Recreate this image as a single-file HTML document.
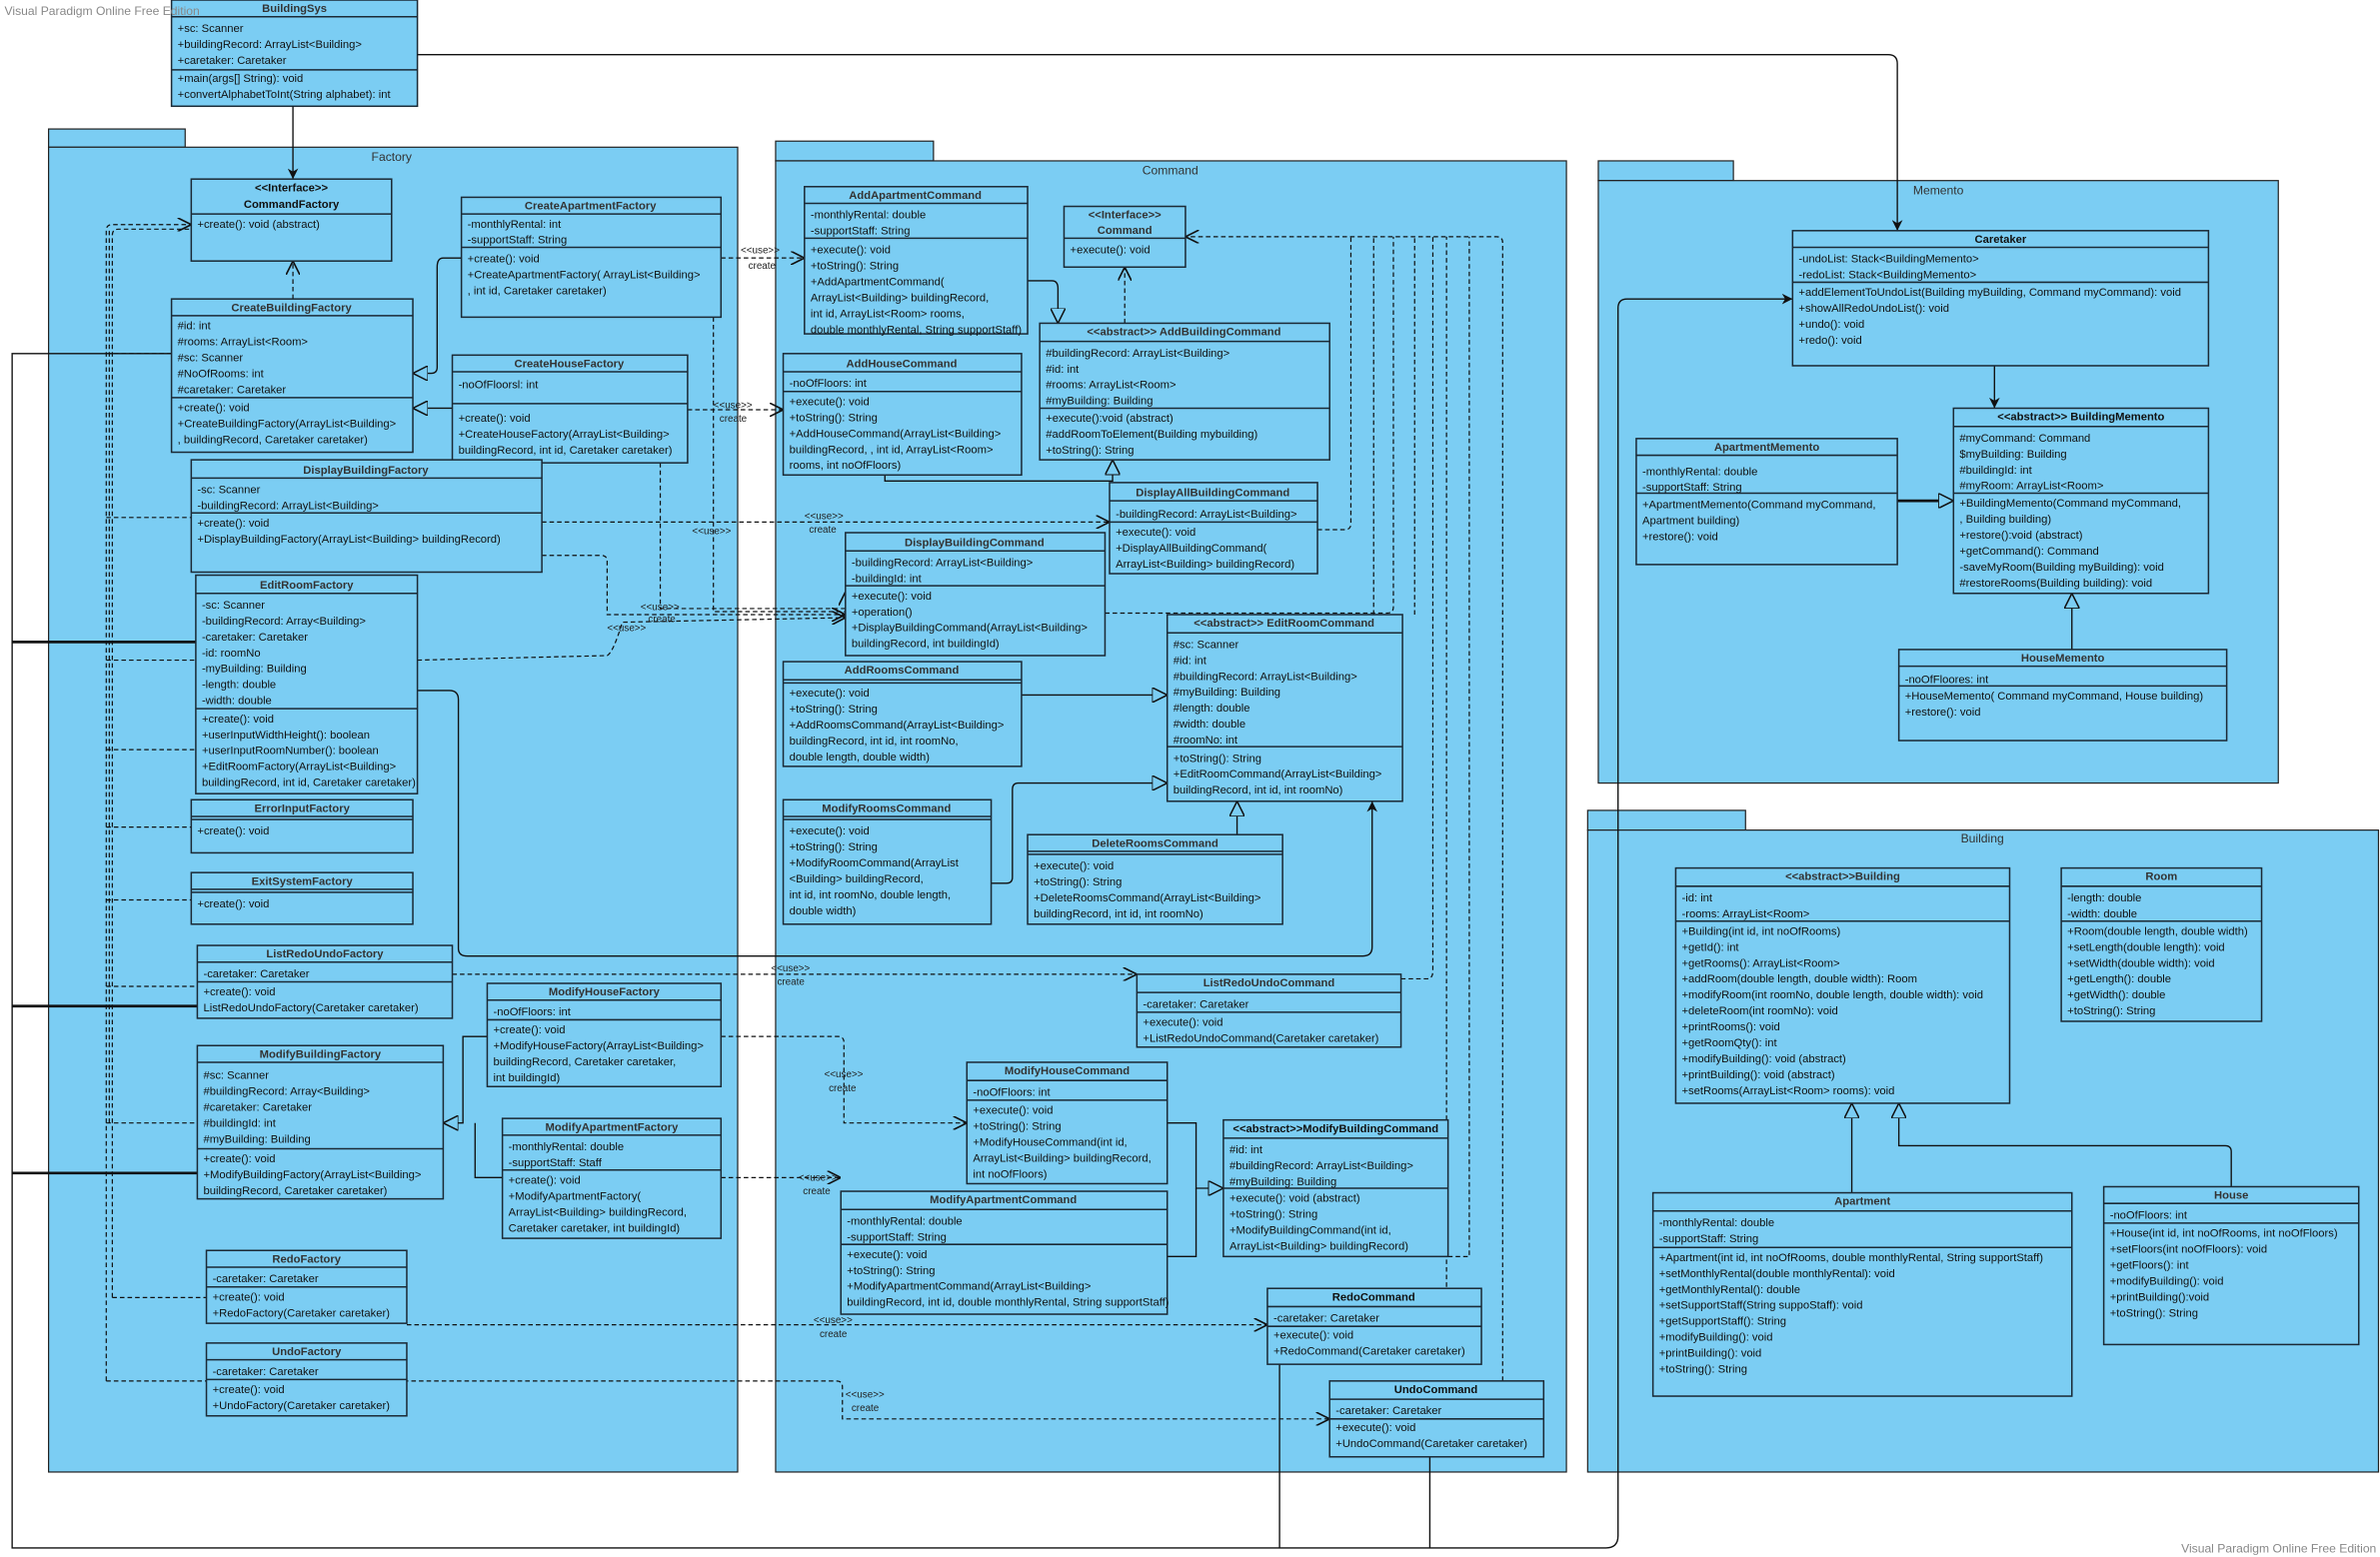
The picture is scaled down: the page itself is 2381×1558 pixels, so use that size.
<!DOCTYPE html>
<html><head><meta charset="utf-8"><style>
html,body{margin:0;padding:0;background:#fff}
svg{display:block}
text{font-family:"Liberation Sans",Arial,sans-serif;font-size:7.4px;fill:#111}
.h{font-weight:bold;fill:#333;text-anchor:middle}
.p{fill:#333;font-size:8px;text-anchor:middle}
.w{fill:#888;font-size:8px}
.s{font-size:6.5px;fill:#222}
.pk{fill:#7bcdf3;stroke:#222;stroke-width:.8}
.c{fill:#7bcdf3;stroke:#1b2a36;stroke-width:1}
.l{stroke:#1b2a36;stroke-width:1}
.d{fill:none;stroke:#111;stroke-width:.8;stroke-dasharray:3,2}
.n{fill:none;stroke:#111;stroke-width:.9}
.t{fill:none;stroke:#111;stroke-width:1.8}
</style></head><body>
<svg width="2381" height="1558" viewBox="0 0 1568 1026" preserveAspectRatio="none" xmlns="http://www.w3.org/2000/svg">
<defs>
<marker id="o" viewBox="0 0 10 10" refX="10" refY="5" markerWidth="9" markerHeight="9" markerUnits="userSpaceOnUse" orient="auto"><path d="M0,0 L10,5 L0,10" fill="none" stroke="#111" stroke-width="1.2"/></marker>
<marker id="f" viewBox="0 0 10 10" refX="10" refY="5" markerWidth="7" markerHeight="7" markerUnits="userSpaceOnUse" orient="auto"><path d="M0,0 L10,5 L0,10 L3,5z" fill="#111"/></marker>
<marker id="g" viewBox="0 0 10 10" refX="10" refY="5" markerWidth="10" markerHeight="10" markerUnits="userSpaceOnUse" orient="auto"><path d="M0,0 L10,5 L0,10z" fill="#7bcdf3" stroke="#111" stroke-width="1"/></marker>
</defs>

<!-- packages -->
<rect class="pk" x="32" y="85" width="90" height="12"/><rect class="pk" x="32" y="97" width="454" height="873"/><text class="p" x="258" y="106">Factory</text>
<rect class="pk" x="511" y="93" width="104" height="13"/><rect class="pk" x="511" y="106" width="521" height="864"/><text class="p" x="771" y="115">Command</text>
<rect class="pk" x="1053" y="106" width="89" height="13"/><rect class="pk" x="1053" y="119" width="448" height="397"/><text class="p" x="1277" y="128">Memento</text>
<rect class="pk" x="1046" y="534" width="104" height="13"/><rect class="pk" x="1046" y="547" width="521" height="423"/><text class="p" x="1306" y="555">Building</text>

<!-- BuildingSys -->
<g><rect class="c" x="113" y="0" width="162" height="70"/><line class="l" x1="113" y1="11" x2="275" y2="11"/><line class="l" x1="113" y1="46" x2="275" y2="46"/>
<text class="h" x="194" y="8">BuildingSys</text>
<text x="117" y="21">+sc: Scanner</text><text x="117" y="31.5">+buildingRecord: ArrayList&lt;Building&gt;</text><text x="117" y="42">+caretaker: Caretaker</text>
<text x="117" y="54">+main(args[] String): void</text><text x="117" y="64.5">+convertAlphabetToInt(String alphabet): int</text></g>

<!-- connectors -->
<path class="n" d="M193,70 L193,118" marker-end="url(#f)"/>
<path class="n" d="M275,36 L1244,36 Q1250,36 1250,42 L1250,152" marker-end="url(#f)"/>
<path class="n" d="M113,233 L8,233 L8,1020 L1058,1020 Q1066,1020 1066,1012 L1066,203 Q1066,197 1072,197 L1181,197" marker-end="url(#f)"/>
<path class="t" d="M8,423 L129,423 M8,663 L130,663 M8,773 L130,773"/>
<path class="n" d="M843,899 L843,1020 M942,960 L942,1020"/>
<path class="d" d="M70,910 L70,152 Q70,148 74,148 L126,148" marker-end="url(#o)"/>
<path class="d" d="M74,855 L74,155 Q74,151 78,151 L126,151"/>
<path class="d" d="M72,740 L72,150"/>
<path class="d" d="M70,233 L113,233 M70,341 L126,341 M70,435 L129,435 M70,494 L129,494 M70,545 L126,545 M70,593 L126,593 M70,650 L130,650 M70,740 L130,740 M74,855 L136,855 M70,910 L136,910"/>
<path class="d" d="M193,197 L193,172" marker-end="url(#o)"/>
<path class="n" d="M304,170 L292,170 Q288,170 288,176 L288,242 Q288,246 284,246 L272,246" marker-end="url(#g)"/>
<path class="n" d="M298,269 L272,269" marker-end="url(#g)"/>
<path class="n" d="M321,683 L305,683 L305,740 L292,740" marker-end="url(#g)"/>
<path class="n" d="M331,776 L313,776 L313,740"/>
<path class="d" d="M475,170 L530,170" marker-end="url(#o)"/><text class="s" x="488" y="167">&lt;&lt;use&gt;&gt;</text><text class="s" x="493" y="177">create</text>
<path class="d" d="M453,270 L516,270" marker-end="url(#o)"/><text class="s" x="470" y="269">&lt;&lt;use&gt;&gt;</text><text class="s" x="474" y="278">create</text>
<path class="d" d="M357,344 L731,344" marker-end="url(#o)"/><text class="s" x="530" y="342">&lt;&lt;use&gt;&gt;</text><text class="s" x="533" y="351">create</text>
<path class="d" d="M357,366 L396,366 Q400,366 400,370 L400,405 L557,405" marker-end="url(#o)"/>
<path class="d" d="M275,435 L400,432 Q404,430 410,410 L557,407" marker-end="url(#o)"/>
<path class="d" d="M470,209 L470,403 L557,403" /><path class="d" d="M435,305 L435,401 L557,401"/>
<text class="s" x="456" y="352">&lt;&lt;use&gt;&gt;</text><text class="s" x="422" y="402">&lt;&lt;use&gt;&gt;</text><text class="s" x="427" y="410">create</text><text class="s" x="400" y="416">&lt;&lt;use&gt;&gt;</text>
<path class="d" d="M557,418 L557,390" marker-end="url(#o)"/>
<path class="d" d="M298,642 L749,642" marker-end="url(#o)"/><text class="s" x="508" y="640">&lt;&lt;use&gt;&gt;</text><text class="s" x="512" y="649">create</text>
<path class="d" d="M475,683 L552,683 Q556,683 556,687 L556,740 L637,740" marker-end="url(#o)"/><text class="s" x="543" y="710">&lt;&lt;use&gt;&gt;</text><text class="s" x="546" y="719">create</text>
<path class="d" d="M475,776 L554,776" marker-end="url(#o)"/><text class="s" x="526" y="778">&lt;&lt;use&gt;&gt;</text><text class="s" x="529" y="787">create</text>
<path class="d" d="M268,873 L835,873" marker-end="url(#o)"/><text class="s" x="536" y="872">&lt;&lt;use&gt;&gt;</text><text class="s" x="540" y="881">create</text>
<path class="d" d="M136,910 L551,910 Q555,910 555,914 L555,935 L876,935" marker-end="url(#o)"/><text class="s" x="557" y="921">&lt;&lt;use&gt;&gt;</text><text class="s" x="561" y="930">create</text>
<path class="n" d="M275,455 L296,455 Q302,455 302,461 L302,625 Q302,630 308,630 L898,630 Q904,630 904,624 L904,528" marker-end="url(#f)"/>
<path class="n" d="M677,185 L693,185 Q697,185 697,190 L697,213" marker-end="url(#g)"/>
<path class="n" d="M583,313 L583,317 L733,317 L733,303" marker-end="url(#g)"/>
<path class="d" d="M741,213 L741,176" marker-end="url(#o)"/>
<path class="d" d="M990,915 L990,160 Q990,156 986,156 L781,156" marker-end="url(#o)"/>
<path class="d" d="M868,349 L886,349 Q890,349 890,345 L890,156 M728,404 L914,404 Q918,404 918,400 L918,156 M905,405 L905,156 M923,645 L940,645 Q944,645 944,640 L944,156 M932,405 L932,156 M954,828 L968,828 L968,156 M976,860 L953,860 L953,156 M1017,915 L990,915"/>
<path class="n" d="M673,458 L769,458" marker-end="url(#g)"/>
<path class="n" d="M653,582 L663,582 Q667,582 667,578 L667,520 Q667,516 671,516 L769,516" marker-end="url(#g)"/>
<path class="n" d="M815,550 L815,528" marker-end="url(#g)"/>
<path class="n" d="M769,740 L788,740 L788,783 L806,783" marker-end="url(#g)"/>
<path class="n" d="M769,828 L788,828 L788,783"/>
<path class="n" d="M1314,241 L1314,269" marker-end="url(#f)"/>
<path class="t" d="M1250,330 L1280,330"/><path class="n" d="M1278,330 L1287,330" marker-end="url(#g)"/>
<path class="n" d="M1365,428 L1365,391" marker-end="url(#g)"/>
<path class="n" d="M1220,786 L1220,727" marker-end="url(#g)"/>
<path class="n" d="M1470,782 L1470,759 Q1470,755 1466,755 L1251,755 L1251,727" marker-end="url(#g)"/>

<!-- Factory classes -->
<g><rect class="c" x="126" y="118" width="132" height="54"/><line class="l" x1="126" y1="141" x2="258" y2="141"/>
<text class="h" x="192" y="126" style="fill:#111">&lt;&lt;Interface&gt;&gt;</text><text class="h" x="192" y="137" style="fill:#111">CommandFactory</text><text x="130" y="150">+create(): void (abstract)</text></g>

<g><rect class="c" x="304" y="130" width="171" height="79"/><line class="l" x1="304" y1="141" x2="475" y2="141"/><line class="l" x1="304" y1="163" x2="475" y2="163"/>
<text class="h" x="389" y="138">CreateApartmentFactory</text><text x="308" y="150">-monthlyRental: int</text><text x="308" y="160.5">-supportStaff: String</text>
<text x="308" y="173">+create(): void</text><text x="308" y="183.5">+CreateApartmentFactory( ArrayList&lt;Building&gt;</text><text x="308" y="194">, int id, Caretaker caretaker)</text></g>

<g><rect class="c" x="113" y="197" width="159" height="101"/><line class="l" x1="113" y1="208" x2="272" y2="208"/><line class="l" x1="113" y1="262" x2="272" y2="262"/>
<text class="h" x="192" y="205">CreateBuildingFactory</text><text x="117" y="217">#id: int</text><text x="117" y="227.5">#rooms: ArrayList&lt;Room&gt;</text><text x="117" y="238">#sc: Scanner</text><text x="117" y="248.5">#NoOfRooms: int</text><text x="117" y="259">#caretaker: Caretaker</text>
<text x="117" y="271">+create(): void</text><text x="117" y="281.5">+CreateBuildingFactory(ArrayList&lt;Building&gt;</text><text x="117" y="292">, buildingRecord, Caretaker caretaker)</text></g>

<g><rect class="c" x="298" y="234" width="155" height="71"/><line class="l" x1="298" y1="245" x2="453" y2="245"/><line class="l" x1="298" y1="266" x2="453" y2="266"/>
<text class="h" x="375" y="242">CreateHouseFactory</text><text x="302" y="256">-noOfFloorsl: int</text>
<text x="302" y="278">+create(): void</text><text x="302" y="288.5">+CreateHouseFactory(ArrayList&lt;Building&gt;</text><text x="302" y="299">buildingRecord, int id, Caretaker caretaker)</text></g>

<g><rect class="c" x="126" y="303" width="231" height="74"/><line class="l" x1="126" y1="315" x2="357" y2="315"/><line class="l" x1="126" y1="338" x2="357" y2="338"/>
<text class="h" x="241" y="312">DisplayBuildingFactory</text><text x="130" y="325">-sc: Scanner</text><text x="130" y="335.5">-buildingRecord: ArrayList&lt;Building&gt;</text>
<text x="130" y="347">+create(): void</text><text x="130" y="357.5">+DisplayBuildingFactory(ArrayList&lt;Building&gt; buildingRecord)</text></g>

<g><rect class="c" x="129" y="379" width="146" height="144"/><line class="l" x1="129" y1="391" x2="275" y2="391"/><line class="l" x1="129" y1="467" x2="275" y2="467"/>
<text class="h" x="202" y="388">EditRoomFactory</text><text x="133" y="401">-sc: Scanner</text><text x="133" y="411.5">-buildingRecord: Array&lt;Building&gt;</text><text x="133" y="422">-caretaker: Caretaker</text><text x="133" y="432.5">-id: roomNo</text><text x="133" y="443">-myBuilding: Building</text><text x="133" y="453.5">-length: double</text><text x="133" y="464">-width: double</text>
<text x="133" y="476">+create(): void</text><text x="133" y="486.5">+userInputWidthHeight(): boolean</text><text x="133" y="497">+userInputRoomNumber(): boolean</text><text x="133" y="507.5">+EditRoomFactory(ArrayList&lt;Building&gt;</text><text x="133" y="518">buildingRecord, int id, Caretaker caretaker)</text></g>

<g><rect class="c" x="126" y="527" width="146" height="35"/><line class="l" x1="126" y1="538" x2="272" y2="538"/><line class="l" x1="126" y1="540" x2="272" y2="540"/>
<text class="h" x="199" y="535">ErrorInputFactory</text><text x="130" y="550">+create(): void</text></g>
<g><rect class="c" x="126" y="575" width="146" height="34"/><line class="l" x1="126" y1="586" x2="272" y2="586"/><line class="l" x1="126" y1="588" x2="272" y2="588"/>
<text class="h" x="199" y="583">ExitSystemFactory</text><text x="130" y="598">+create(): void</text></g>

<g><rect class="c" x="130" y="623" width="168" height="48"/><line class="l" x1="130" y1="634" x2="298" y2="634"/><line class="l" x1="130" y1="647" x2="298" y2="647"/>
<text class="h" x="214" y="631">ListRedoUndoFactory</text><text x="134" y="644">-caretaker: Caretaker</text><text x="134" y="656">+create(): void</text><text x="134" y="666.5">ListRedoUndoFactory(Caretaker caretaker)</text></g>

<g><rect class="c" x="321" y="648" width="154" height="68"/><line class="l" x1="321" y1="659" x2="475" y2="659"/><line class="l" x1="321" y1="672" x2="475" y2="672"/>
<text class="h" x="398" y="656">ModifyHouseFactory</text><text x="325" y="669">-noOfFloors: int</text>
<text x="325" y="681">+create(): void</text><text x="325" y="691.5">+ModifyHouseFactory(ArrayList&lt;Building&gt;</text><text x="325" y="702">buildingRecord, Caretaker caretaker,</text><text x="325" y="712.5">int buildingId)</text></g>

<g><rect class="c" x="130" y="689" width="162" height="101"/><line class="l" x1="130" y1="700" x2="292" y2="700"/><line class="l" x1="130" y1="757" x2="292" y2="757"/>
<text class="h" x="211" y="697">ModifyBuildingFactory</text><text x="134" y="711">#sc: Scanner</text><text x="134" y="721.5">#buildingRecord: Array&lt;Building&gt;</text><text x="134" y="732">#caretaker: Caretaker</text><text x="134" y="742.5">#buildingId: int</text><text x="134" y="753">#myBuilding: Building</text>
<text x="134" y="766">+create(): void</text><text x="134" y="776.5">+ModifyBuildingFactory(ArrayList&lt;Building&gt;</text><text x="134" y="787">buildingRecord, Caretaker caretaker)</text></g>

<g><rect class="c" x="331" y="737" width="144" height="79"/><line class="l" x1="331" y1="748" x2="475" y2="748"/><line class="l" x1="331" y1="771" x2="475" y2="771"/>
<text class="h" x="403" y="745">ModifyApartmentFactory</text><text x="335" y="758">-monthlyRental: double</text><text x="335" y="768.5">-supportStaff: Staff</text>
<text x="335" y="780">+create(): void</text><text x="335" y="790.5">+ModifyApartmentFactory(</text><text x="335" y="801">ArrayList&lt;Building&gt; buildingRecord,</text><text x="335" y="811.5">Caretaker caretaker, int buildingId)</text></g>

<g><rect class="c" x="136" y="824" width="132" height="48"/><line class="l" x1="136" y1="835" x2="268" y2="835"/><line class="l" x1="136" y1="848" x2="268" y2="848"/>
<text class="h" x="202" y="832">RedoFactory</text><text x="140" y="845">-caretaker: Caretaker</text><text x="140" y="857">+create(): void</text><text x="140" y="867.5">+RedoFactory(Caretaker caretaker)</text></g>
<g><rect class="c" x="136" y="885" width="132" height="48"/><line class="l" x1="136" y1="896" x2="268" y2="896"/><line class="l" x1="136" y1="909" x2="268" y2="909"/>
<text class="h" x="202" y="893">UndoFactory</text><text x="140" y="906">-caretaker: Caretaker</text><text x="140" y="918">+create(): void</text><text x="140" y="928.5">+UndoFactory(Caretaker caretaker)</text></g>

<!-- Command classes -->
<g><rect class="c" x="530" y="123" width="147" height="97"/><line class="l" x1="530" y1="134" x2="677" y2="134"/><line class="l" x1="530" y1="157" x2="677" y2="157"/>
<text class="h" x="603" y="131">AddApartmentCommand</text><text x="534" y="144">-monthlyRental: double</text><text x="534" y="154.5">-supportStaff: String</text>
<text x="534" y="167">+execute(): void</text><text x="534" y="177.5">+toString(): String</text><text x="534" y="188">+AddApartmentCommand(</text><text x="534" y="198.5">ArrayList&lt;Building&gt; buildingRecord,</text><text x="534" y="209">int id, ArrayList&lt;Room&gt; rooms,</text><text x="534" y="219.5">double monthlyRental, String supportStaff)</text></g>

<g><rect class="c" x="701" y="136" width="80" height="40"/><line class="l" x1="701" y1="157" x2="781" y2="157"/>
<text class="h" x="741" y="144">&lt;&lt;Interface&gt;&gt;</text><text class="h" x="741" y="154">Command</text><text x="705" y="167">+execute(): void</text></g>

<g><rect class="c" x="516" y="233" width="157" height="80"/><line class="l" x1="516" y1="245" x2="673" y2="245"/><line class="l" x1="516" y1="258" x2="673" y2="258"/>
<text class="h" x="594" y="242">AddHouseCommand</text><text x="520" y="255">-noOfFloors: int</text>
<text x="520" y="267">+execute(): void</text><text x="520" y="277.5">+toString(): String</text><text x="520" y="288">+AddHouseCommand(ArrayList&lt;Building&gt;</text><text x="520" y="298.5">buildingRecord, , int id, ArrayList&lt;Room&gt;</text><text x="520" y="309">rooms, int noOfFloors)</text></g>

<g><rect class="c" x="685" y="213" width="191" height="90"/><line class="l" x1="685" y1="225" x2="876" y2="225"/><line class="l" x1="685" y1="269" x2="876" y2="269"/>
<text class="h" x="780" y="221">&lt;&lt;abstract&gt;&gt; AddBuildingCommand</text><text x="689" y="235">#buildingRecord: ArrayList&lt;Building&gt;</text><text x="689" y="245.5">#id: int</text><text x="689" y="256">#rooms: ArrayList&lt;Room&gt;</text><text x="689" y="266.5">#myBuilding: Building</text>
<text x="689" y="278">+execute():void (abstract)</text><text x="689" y="288.5">#addRoomToElement(Building mybuilding)</text><text x="689" y="299">+toString(): String</text></g>

<g><rect class="c" x="731" y="318" width="137" height="60"/><line class="l" x1="731" y1="330" x2="868" y2="330"/><line class="l" x1="731" y1="344" x2="868" y2="344"/>
<text class="h" x="799" y="327">DisplayAllBuildingCommand</text><text x="735" y="341">-buildingRecord: ArrayList&lt;Building&gt;</text>
<text x="735" y="353">+execute(): void</text><text x="735" y="363.5">+DisplayAllBuildingCommand(</text><text x="735" y="374">ArrayList&lt;Building&gt; buildingRecord)</text></g>

<g><rect class="c" x="557" y="351" width="171" height="81"/><line class="l" x1="557" y1="363" x2="728" y2="363"/><line class="l" x1="557" y1="386" x2="728" y2="386"/>
<text class="h" x="642" y="360">DisplayBuildingCommand</text><text x="561" y="373">-buildingRecord: ArrayList&lt;Building&gt;</text><text x="561" y="383.5">-buildingId: int</text>
<text x="561" y="395">+execute(): void</text><text x="561" y="405.5">+operation()</text><text x="561" y="416">+DisplayBuildingCommand(ArrayList&lt;Building&gt;</text><text x="561" y="426.5">buildingRecord, int buildingId)</text></g>

<g><rect class="c" x="516" y="436" width="157" height="69"/><line class="l" x1="516" y1="448" x2="673" y2="448"/><line class="l" x1="516" y1="450" x2="673" y2="450"/>
<text class="h" x="594" y="444">AddRoomsCommand</text>
<text x="520" y="459">+execute(): void</text><text x="520" y="469.5">+toString(): String</text><text x="520" y="480">+AddRoomsCommand(ArrayList&lt;Building&gt;</text><text x="520" y="490.5">buildingRecord, int id, int roomNo,</text><text x="520" y="501">double length, double width)</text></g>

<g><rect class="c" x="769" y="405" width="155" height="123"/><line class="l" x1="769" y1="417" x2="924" y2="417"/><line class="l" x1="769" y1="492" x2="924" y2="492"/>
<text class="h" x="846" y="413">&lt;&lt;abstract&gt;&gt; EditRoomCommand</text><text x="773" y="427">#sc: Scanner</text><text x="773" y="437.5">#id: int</text><text x="773" y="448">#buildingRecord: ArrayList&lt;Building&gt;</text><text x="773" y="458.5">#myBuilding: Building</text><text x="773" y="469">#length: double</text><text x="773" y="479.5">#width: double</text><text x="773" y="490">#roomNo: int</text>
<text x="773" y="502">+toString(): String</text><text x="773" y="512.5">+EditRoomCommand(ArrayList&lt;Building&gt;</text><text x="773" y="523">buildingRecord, int id, int roomNo)</text></g>

<g><rect class="c" x="516" y="527" width="137" height="82"/><line class="l" x1="516" y1="538" x2="653" y2="538"/><line class="l" x1="516" y1="540" x2="653" y2="540"/>
<text class="h" x="584" y="535">ModifyRoomsCommand</text>
<text x="520" y="550">+execute(): void</text><text x="520" y="560.5">+toString(): String</text><text x="520" y="571">+ModifyRoomCommand(ArrayList</text><text x="520" y="581.5">&lt;Building&gt; buildingRecord,</text><text x="520" y="592">int id, int roomNo, double length,</text><text x="520" y="602.5">double width)</text></g>

<g><rect class="c" x="677" y="550" width="168" height="59"/><line class="l" x1="677" y1="561" x2="845" y2="561"/><line class="l" x1="677" y1="563" x2="845" y2="563"/>
<text class="h" x="761" y="558">DeleteRoomsCommand</text>
<text x="681" y="573">+execute(): void</text><text x="681" y="583.5">+toString(): String</text><text x="681" y="594">+DeleteRoomsCommand(ArrayList&lt;Building&gt;</text><text x="681" y="604.5">buildingRecord,  int id, int roomNo)</text></g>

<g><rect class="c" x="749" y="642" width="174" height="48"/><line class="l" x1="749" y1="654" x2="923" y2="654"/><line class="l" x1="749" y1="667" x2="923" y2="667"/>
<text class="h" x="836" y="650">ListRedoUndoCommand</text><text x="753" y="664">-caretaker: Caretaker</text><text x="753" y="676">+execute(): void</text><text x="753" y="686.5">+ListRedoUndoCommand(Caretaker caretaker)</text></g>

<g><rect class="c" x="637" y="700" width="132" height="80"/><line class="l" x1="637" y1="712" x2="769" y2="712"/><line class="l" x1="637" y1="725" x2="769" y2="725"/>
<text class="h" x="703" y="708">ModifyHouseCommand</text><text x="641" y="722">-noOfFloors: int</text>
<text x="641" y="734">+execute(): void</text><text x="641" y="744.5">+toString(): String</text><text x="641" y="755">+ModifyHouseCommand(int id,</text><text x="641" y="765.5">ArrayList&lt;Building&gt; buildingRecord,</text><text x="641" y="776">int noOfFloors)</text></g>

<g><rect class="c" x="806" y="738" width="148" height="90"/><line class="l" x1="806" y1="750" x2="954" y2="750"/><line class="l" x1="806" y1="783" x2="954" y2="783"/>
<text class="h" x="880" y="746" style="fill:#111">&lt;&lt;abstract&gt;&gt;ModifyBuildingCommand</text><text x="810" y="760">#id: int</text><text x="810" y="770.5">#buildingRecord: ArrayList&lt;Building&gt;</text><text x="810" y="781">#myBuilding: Building</text>
<text x="810" y="792">+execute(): void (abstract)</text><text x="810" y="802.5">+toString(): String</text><text x="810" y="813">+ModifyBuildingCommand(int id,</text><text x="810" y="823.5">ArrayList&lt;Building&gt; buildingRecord)</text></g>

<g><rect class="c" x="554" y="785" width="215" height="81"/><line class="l" x1="554" y1="797" x2="769" y2="797"/><line class="l" x1="554" y1="820" x2="769" y2="820"/>
<text class="h" x="661" y="793">ModifyApartmentCommand</text><text x="558" y="807">-monthlyRental: double</text><text x="558" y="817.5">-supportStaff: String</text>
<text x="558" y="829">+execute(): void</text><text x="558" y="839.5">+toString(): String</text><text x="558" y="850">+ModifyApartmentCommand(ArrayList&lt;Building&gt;</text><text x="558" y="860.5">buildingRecord, int id, double monthlyRental,  String supportStaff)</text></g>

<g><rect class="c" x="835" y="849" width="141" height="50"/><line class="l" x1="835" y1="861" x2="976" y2="861"/><line class="l" x1="835" y1="874" x2="976" y2="874"/>
<text class="h" x="905" y="857" style="fill:#111">RedoCommand</text><text x="839" y="871">-caretaker: Caretaker</text><text x="839" y="882">+execute(): void</text><text x="839" y="892.5">+RedoCommand(Caretaker caretaker)</text></g>
<g><rect class="c" x="876" y="910" width="141" height="50"/><line class="l" x1="876" y1="922" x2="1017" y2="922"/><line class="l" x1="876" y1="935" x2="1017" y2="935"/>
<text class="h" x="946" y="918" style="fill:#111">UndoCommand</text><text x="880" y="932">-caretaker: Caretaker</text><text x="880" y="943">+execute(): void</text><text x="880" y="953.5">+UndoCommand(Caretaker caretaker)</text></g>

<!-- Memento -->
<g><rect class="c" x="1181" y="152" width="274" height="89"/><line class="l" x1="1181" y1="163" x2="1455" y2="163"/><line class="l" x1="1181" y1="186" x2="1455" y2="186"/>
<text class="h" x="1318" y="160" style="fill:#111">Caretaker</text><text x="1185" y="173">-undoList: Stack&lt;BuildingMemento&gt;</text><text x="1185" y="183.5">-redoList: Stack&lt;BuildingMemento&gt;</text>
<text x="1185" y="195">+addElementToUndoList(Building myBuilding, Command myCommand): void</text><text x="1185" y="205.5">+showAllRedoUndoList(): void</text><text x="1185" y="216">+undo(): void</text><text x="1185" y="226.5">+redo(): void</text></g>

<g><rect class="c" x="1287" y="269" width="168" height="122"/><line class="l" x1="1287" y1="281" x2="1455" y2="281"/><line class="l" x1="1287" y1="325" x2="1455" y2="325"/>
<text class="h" x="1371" y="277" style="fill:#111">&lt;&lt;abstract&gt;&gt; BuildingMemento</text><text x="1291" y="291">#myCommand: Command</text><text x="1291" y="301.5">$myBuilding: Building</text><text x="1291" y="312">#buildingId: int</text><text x="1291" y="322.5">#myRoom: ArrayList&lt;Room&gt;</text>
<text x="1291" y="334">+BuildingMemento(Command myCommand,</text><text x="1291" y="344.5">, Building building)</text><text x="1291" y="355">+restore():void (abstract)</text><text x="1291" y="365.5">+getCommand(): Command</text><text x="1291" y="376">-saveMyRoom(Building myBuilding): void</text><text x="1291" y="386.5">#restoreRooms(Building building): void</text></g>

<g><rect class="c" x="1078" y="289" width="172" height="83"/><line class="l" x1="1078" y1="300" x2="1250" y2="300"/><line class="l" x1="1078" y1="325" x2="1250" y2="325"/>
<text class="h" x="1164" y="297">ApartmentMemento</text><text x="1082" y="313">-monthlyRental: double</text><text x="1082" y="323.5">-supportStaff: String</text>
<text x="1082" y="335">+ApartmentMemento(Command myCommand,</text><text x="1082" y="345.5">Apartment building)</text><text x="1082" y="356">+restore(): void</text></g>

<g><rect class="c" x="1251" y="428" width="216" height="60"/><line class="l" x1="1251" y1="439" x2="1467" y2="439"/><line class="l" x1="1251" y1="452" x2="1467" y2="452"/>
<text class="h" x="1359" y="436">HouseMemento</text><text x="1255" y="450">-noOfFloores: int</text><text x="1255" y="461">+HouseMemento( Command myCommand, House building)</text><text x="1255" y="471.5">+restore(): void</text></g>

<!-- Building -->
<g><rect class="c" x="1104" y="572" width="220" height="155"/><line class="l" x1="1104" y1="584" x2="1324" y2="584"/><line class="l" x1="1104" y1="607" x2="1324" y2="607"/>
<text class="h" x="1214" y="580">&lt;&lt;abstract&gt;&gt;Building</text><text x="1108" y="594">-id: int</text><text x="1108" y="604.5">-rooms: ArrayList&lt;Room&gt;</text>
<text x="1108" y="616">+Building(int id, int noOfRooms)</text><text x="1108" y="626.5">+getId(): int</text><text x="1108" y="637">+getRooms(): ArrayList&lt;Room&gt;</text><text x="1108" y="647.5">+addRoom(double length, double width): Room</text><text x="1108" y="658">+modifyRoom(int roomNo, double length, double width): void</text><text x="1108" y="668.5">+deleteRoom(int roomNo): void</text><text x="1108" y="679">+printRooms(): void</text><text x="1108" y="689.5">+getRoomQty(): int</text><text x="1108" y="700">+modifyBuilding(): void (abstract)</text><text x="1108" y="710.5">+printBuilding(): void (abstract)</text><text x="1108" y="721">+setRooms(ArrayList&lt;Room&gt; rooms): void</text></g>

<g><rect class="c" x="1358" y="572" width="132" height="101"/><line class="l" x1="1358" y1="584" x2="1490" y2="584"/><line class="l" x1="1358" y1="607" x2="1490" y2="607"/>
<text class="h" x="1424" y="580">Room</text><text x="1362" y="594">-length: double</text><text x="1362" y="604.5">-width: double</text>
<text x="1362" y="616">+Room(double length, double width)</text><text x="1362" y="626.5">+setLength(double length): void</text><text x="1362" y="637">+setWidth(double width): void</text><text x="1362" y="647.5">+getLength(): double</text><text x="1362" y="658">+getWidth(): double</text><text x="1362" y="668.5">+toString(): String</text></g>

<g><rect class="c" x="1089" y="786" width="276" height="134"/><line class="l" x1="1089" y1="798" x2="1365" y2="798"/><line class="l" x1="1089" y1="822" x2="1365" y2="822"/>
<text class="h" x="1227" y="794">Apartment</text><text x="1093" y="808">-monthlyRental: double</text><text x="1093" y="818.5">-supportStaff: String</text>
<text x="1093" y="831">+Apartment(int id, int noOfRooms, double monthlyRental, String supportStaff)</text><text x="1093" y="841.5">+setMonthlyRental(double monthlyRental): void</text><text x="1093" y="852">+getMonthlyRental(): double</text><text x="1093" y="862.5">+setSupportStaff(String suppoStaff): void</text><text x="1093" y="873">+getSupportStaff(): String</text><text x="1093" y="883.5">+modifyBuilding(): void</text><text x="1093" y="894">+printBuilding(): void</text><text x="1093" y="904.5">+toString(): String</text></g>

<g><rect class="c" x="1386" y="782" width="168" height="104"/><line class="l" x1="1386" y1="793" x2="1554" y2="793"/><line class="l" x1="1386" y1="806" x2="1554" y2="806"/>
<text class="h" x="1470" y="790">House</text><text x="1390" y="803">-noOfFloors: int</text>
<text x="1390" y="815">+House(int id, int noOfRooms, int noOfFloors)</text><text x="1390" y="825.5">+setFloors(int noOfFloors): void</text><text x="1390" y="836">+getFloors(): int</text><text x="1390" y="846.5">+modifyBuilding(): void</text><text x="1390" y="857">+printBuilding():void</text><text x="1390" y="867.5">+toString(): String</text></g>

<text class="w" x="3" y="10">Visual Paradigm Online Free Edition</text>
<text class="w" x="1437" y="1023">Visual Paradigm Online Free Edition</text>
</svg>
</body></html>
